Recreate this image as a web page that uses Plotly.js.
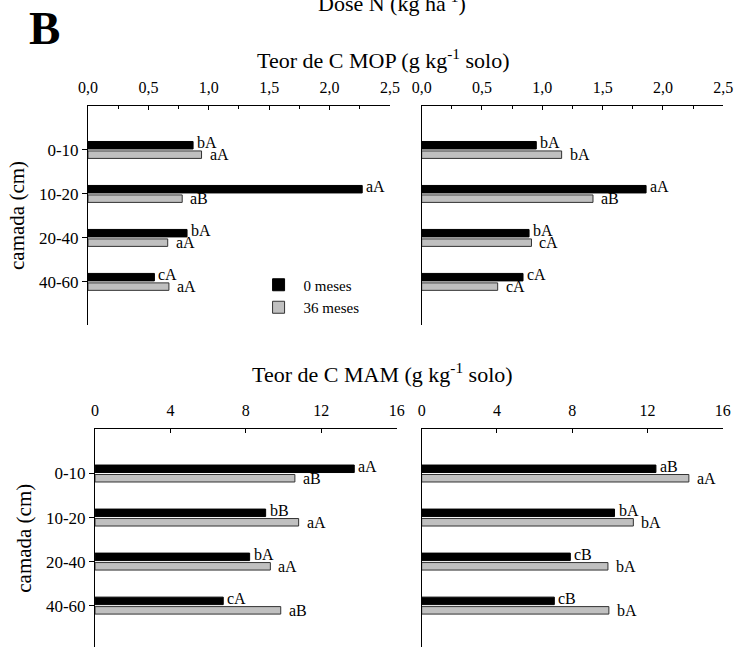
<!DOCTYPE html>
<html>
<head>
<meta charset="utf-8">
<script src="https://cdn.plot.ly/plotly-3.0.1.min.js"></script>
<style>html,body{margin:0;padding:0;background:#fff;}#chart{width:735px;height:647px;}</style>
</head>
<body>
<div id="chart"></div>
<script>
// ---- data ----
const categories = ['0-10', '10-20', '20-40', '40-60'];
const seriesNames = ['0 meses', '36 meses'];

// Teor de C MOP (g kg-1 solo) - left panel
const mopLeft0 = [0.87, 2.27, 0.82, 0.55];
const mopLeft36 = [0.94, 0.78, 0.66, 0.67];
const mopLeftLab0 = ['bA', 'aA', 'bA', 'cA'];
const mopLeftLab36 = ['aA', 'aB', 'aA', 'aA'];
// Teor de C MOP - right panel
const mopRight0 = [0.95, 1.86, 0.89, 0.84];
const mopRight36 = [1.16, 1.42, 0.91, 0.63];
const mopRightLab0 = ['bA', 'aA', 'bA', 'cA'];
const mopRightLab36 = ['bA', 'aB', 'cA', 'cA'];
// Teor de C MAM (g kg-1 solo) - left panel
const mamLeft0 = [13.75, 9.05, 8.2, 6.8];
const mamLeft36 = [10.6, 10.8, 9.3, 9.85];
const mamLeftLab0 = ['aA', 'bB', 'bA', 'cA'];
const mamLeftLab36 = ['aB', 'aA', 'aA', 'aB'];
// Teor de C MAM - right panel
const mamRight0 = [12.45, 10.25, 7.9, 7.05];
const mamRight36 = [14.2, 11.25, 9.9, 9.95];
const mamRightLab0 = ['aB', 'bA', 'cB', 'cB'];
const mamRightLab36 = ['aA', 'bA', 'bA', 'bA'];

// ---- styles ----
const FONT = 'Liberation Serif, Times New Roman, serif';
const colBlack = '#000000';
const colGray = '#c0c0c0';

function barTrace(vals, name, xa, ya, isGray, showLeg) {
  return {
    type: 'bar', orientation: 'h', x: vals, y: categories, name: name,
    xaxis: xa, yaxis: ya, showlegend: showLeg, legendgroup: name,
    marker: { color: isGray ? colGray : colBlack, line: { color: isGray ? '#333333' : colBlack, width: 1 } },
    hoverinfo: 'skip'
  };
}

const panels = [
  { xa: 'x', ya: 'y', v0: mopLeft0, v36: mopLeft36, l0: mopLeftLab0, l36: mopLeftLab36, leg: true },
  { xa: 'x2', ya: 'y2', v0: mopRight0, v36: mopRight36, l0: mopRightLab0, l36: mopRightLab36, leg: false },
  { xa: 'x3', ya: 'y3', v0: mamLeft0, v36: mamLeft36, l0: mamLeftLab0, l36: mamLeftLab36, leg: false },
  { xa: 'x4', ya: 'y4', v0: mamRight0, v36: mamRight36, l0: mamRightLab0, l36: mamRightLab36, leg: false }
];

const traces = [];
const annotations = [];
panels.forEach(p => {
  traces.push(barTrace(p.v0, seriesNames[0], p.xa, p.ya, false, p.leg));
  traces.push(barTrace(p.v36, seriesNames[1], p.xa, p.ya, true, p.leg));
  categories.forEach((c, i) => {
    annotations.push({ xref: p.xa, yref: p.ya, x: p.v0[i], y: c, text: p.l0[i], showarrow: false,
      xanchor: 'left', yanchor: 'middle', xshift: 2, yshift: 7, font: { family: FONT, size: 16, color: '#000' } });
    annotations.push({ xref: p.xa, yref: p.ya, x: p.v36[i], y: c, text: p.l36[i], showarrow: false,
      xanchor: 'left', yanchor: 'middle', xshift: 6, yshift: -5, font: { family: FONT, size: 16, color: '#000' } });
  });
});

annotations.push({ xref: 'paper', yref: 'paper', x: 0.0612, y: 0.957, text: '<b>B</b>', showarrow: false,
  xanchor: 'center', yanchor: 'middle', font: { family: FONT, size: 47, color: '#000' } });
annotations.push({ xref: 'paper', yref: 'paper', x: 0.533, y: 0.997, text: 'Dose N (kg ha<sup>-1</sup>)', showarrow: false,
  xanchor: 'center', yanchor: 'middle', font: { family: FONT, size: 22, color: '#000' } });
annotations.push({ xref: 'paper', yref: 'paper', x: 0.521, y: 0.909, text: 'Teor de C MOP (g kg<sup>-1</sup> solo)', showarrow: false,
  xanchor: 'center', yanchor: 'middle', font: { family: FONT, size: 22, color: '#000' } });
annotations.push({ xref: 'paper', yref: 'paper', x: 0.521, y: 0.4235, text: 'Teor de C MAM (g kg<sup>-1</sup> solo)', showarrow: false,
  xanchor: 'center', yanchor: 'middle', font: { family: FONT, size: 22, color: '#000' } });

function xAxis(domain, anchor, range, dtick, fmt, minor) {
  const a = {
    domain: domain, anchor: anchor, side: 'top', range: range, dtick: dtick, tick0: 0,
    tickformat: fmt, ticks: 'inside', ticklen: 4, tickcolor: '#000', showline: true, linecolor: '#000', linewidth: 1,
    showgrid: false, zeroline: false, tickfont: { family: FONT, size: 16, color: '#000' }, ticklabelstandoff: 6, fixedrange: true
  };
  if (minor) a.minor = { dtick: minor, ticks: 'inside', ticklen: 3, tickcolor: '#000', showgrid: false };
  return a;
}
function yAxis(domain, anchor, range, labels) {
  const a = {
    domain: domain, anchor: anchor, type: 'category', categoryorder: 'array', categoryarray: categories,
    range: range, autorange: false, showline: true, linecolor: '#000', linewidth: 1, showgrid: false, zeroline: false,
    ticks: labels ? 'outside' : '', ticklen: 5, tickcolor: '#000', showticklabels: labels,
    tickfont: { family: FONT, size: 17, color: '#000' }, fixedrange: true
  };
  if (labels) a.title = { text: 'camada (cm)', font: { family: FONT, size: 21, color: '#000' }, standoff: 8 };
  return a;
}

const layout = {
  width: 735, height: 647,
  margin: { l: 0, r: 0, t: 0, b: 0 },
  paper_bgcolor: '#fff', plot_bgcolor: '#fff',
  font: { family: FONT, color: '#000' },
  separators: ',.',
  barmode: 'group', bargap: 0.57, bargroupgap: 0.21,
  showlegend: true,
  legend: { x: 0.345, y: 0.585, xanchor: 'left', yanchor: 'top', bgcolor: 'rgba(0,0,0,0)',
    font: { family: FONT, size: 15, color: '#000' }, traceorder: 'normal', itemwidth: 40 },
  xaxis: xAxis([0.1197, 0.5306], 'y', [0, 2.5], 0.5, '.1f', 0.25),
  yaxis: yAxis([0.4977, 0.8362], 'x', [3.98, -1], true),
  xaxis2: xAxis([0.5737, 0.9841], 'y2', [0, 2.5], 0.5, '.1f', 0.25),
  yaxis2: yAxis([0.4977, 0.8362], 'x2', [3.98, -1], false),
  xaxis3: xAxis([0.1293, 0.5397], 'y3', [0, 16], 4, 'd', null),
  yaxis3: yAxis([0, 0.3362], 'x3', [3.94, -1], true),
  xaxis4: xAxis([0.5737, 0.9833], 'y4', [0, 16], 4, 'd', null),
  yaxis4: yAxis([0, 0.3362], 'x4', [3.94, -1], false),
  annotations: annotations
};

Plotly.newPlot('chart', traces, layout, { staticPlot: true, displayModeBar: false });
</script>
</body>
</html>
